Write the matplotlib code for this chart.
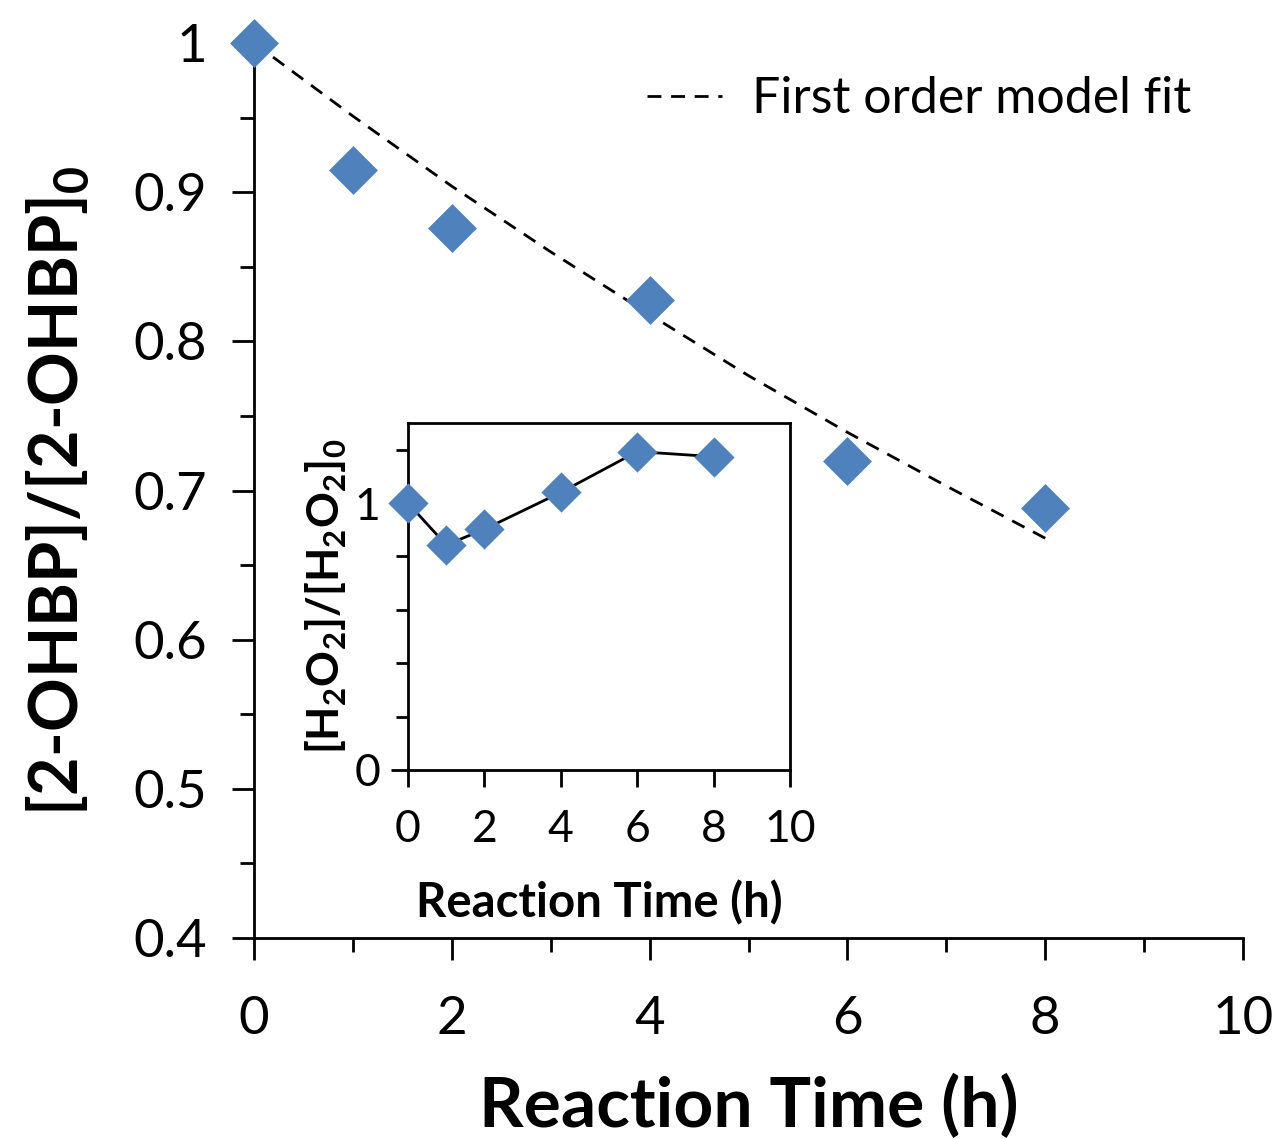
import matplotlib
matplotlib.use("Agg")
import matplotlib.pyplot as plt
from matplotlib.ticker import MultipleLocator

plt.rcParams['font.family'] = ['Lato', 'DejaVu Sans']
plt.rcParams['mathtext.fontset'] = 'custom'
plt.rcParams['mathtext.rm'] = 'Lato'
plt.rcParams['mathtext.bf'] = 'Lato:bold'

# main data: 2-OHBP normalised concentration
time_h = [0, 1, 2, 4, 6, 8]
ohbp_ratio = [1.0, 0.915, 0.876, 0.828, 0.720, 0.688]

# first order model fit
fit_time = [0, 1, 2, 3, 4, 5, 6, 7, 8]
fit_ratio = [1.0, 0.951, 0.904, 0.860, 0.818, 0.777, 0.739, 0.703, 0.668]

# inset: H2O2 normalised concentration
h2o2_time = [0, 1, 2, 4, 6, 8]
h2o2_ratio = [1.0, 0.843, 0.902, 1.04, 1.193, 1.174]

blue = '#4f81bd'

fig = plt.figure(figsize=(12.79, 11.39), dpi=100)
ax = fig.add_axes([0.1986, 0.1765, 0.7733, 0.7857])

ax.plot(fit_time, fit_ratio, color='black', linestyle=(0, (5, 3.5)), linewidth=2,
        label='First order model fit', zorder=2)
ax.scatter(time_h, ohbp_ratio, marker='D', s=620, color=blue, zorder=3, clip_on=False,
           linewidths=0)

ax.set_xlim(0, 10)
ax.set_ylim(0.4, 1.0)
ax.xaxis.set_major_locator(MultipleLocator(2))
ax.xaxis.set_minor_locator(MultipleLocator(1))
ax.yaxis.set_major_locator(MultipleLocator(0.1))
ax.yaxis.set_minor_locator(MultipleLocator(0.05))
ax.yaxis.set_major_formatter(plt.FuncFormatter(lambda v, p: f'{v:g}'))
for s in ['top', 'right']:
    ax.spines[s].set_visible(False)
for s in ['left', 'bottom']:
    ax.spines[s].set_linewidth(2)
ax.tick_params(which='both', direction='out', width=2, labelsize=38)
ax.tick_params(which='major', length=16)
ax.tick_params(which='minor', length=10)
ax.tick_params(axis='x', which='major', pad=26)
ax.tick_params(axis='y', which='major', pad=18)

ax.set_xlabel('Reaction Time (h)', fontsize=50, fontweight='bold', labelpad=22)
ax.set_ylabel(r'[2-OHBP]/[2-OHBP]$_\mathbf{0}$', fontsize=48, fontweight='bold', labelpad=30)

ax.legend(loc='upper right', frameon=False, fontsize=36, handlelength=1.5,
          handletextpad=0.6, bbox_to_anchor=(0.993, 1.013))

# inset
ins = fig.add_axes([0.319, 0.324, 0.2987, 0.3046])
ins.plot(h2o2_time, h2o2_ratio, color='black', linewidth=2, zorder=2)
ins.scatter(h2o2_time, h2o2_ratio, marker='D', s=420, color=blue, zorder=3, linewidths=0,
            clip_on=False)
ins.set_xlim(0, 10)
ins.set_ylim(0, 1.3)
ins.xaxis.set_major_locator(MultipleLocator(2))
ins.yaxis.set_major_locator(MultipleLocator(1))
ins.yaxis.set_minor_locator(MultipleLocator(0.2))
for s in ins.spines.values():
    s.set_linewidth(2)
ins.tick_params(which='both', direction='out', width=2, labelsize=32)
ins.tick_params(which='major', length=12, pad=8)
ins.tick_params(which='minor', length=9)
ins.tick_params(axis='x', pad=16)
ins.set_xlabel('Reaction Time (h)', fontsize=34, fontweight='bold', labelpad=22)
ins.set_ylabel(r'[H$_\mathbf{2}$O$_\mathbf{2}$]/[H$_\mathbf{2}$O$_\mathbf{2}$]$_\mathbf{0}$',
               fontsize=32, fontweight='bold', labelpad=4)

fig.savefig('out.png', dpi=100)
